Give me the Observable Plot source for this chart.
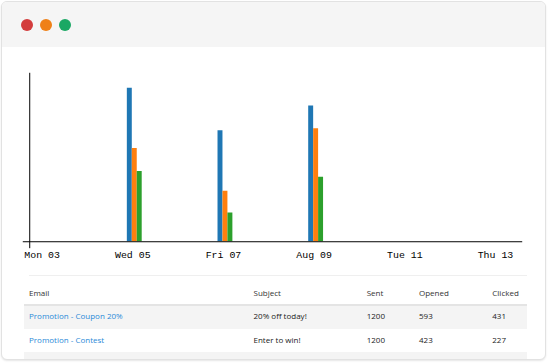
<!DOCTYPE html>
<html>
<head>
<meta charset="utf-8">
<script src="https://cdn.jsdelivr.net/npm/d3@7"></script>
<script src="https://cdn.jsdelivr.net/npm/@observablehq/plot@0.6"></script>
<style>
  html, body { margin: 0; padding: 0; background: #fff; width: 550px; height: 363px; overflow: hidden; }
  #win { position: absolute; left: 1px; top: 1px; width: 545px; height: 359px; box-sizing: border-box;
         border: 1px solid #e2e2e2; border-radius: 6px; box-shadow: 0 1px 2px rgba(0,0,0,0.10);
         background: #fff; overflow: hidden; }
  #bar { position: absolute; left: 0; top: 0; width: 100%; height: 45px; background: #f5f5f5; }
  .dot { position: absolute; top: 17px; width: 12px; height: 12px; border-radius: 50%; }
  #chart { position: absolute; left: -2px; top: 48px; }
  #chart svg { display: block; }
  #table { position: absolute; left: 22px; top: 272px; width: 503px; height: 85px; overflow: hidden;
           font-family: "Open Sans", sans-serif; font-size: 8px; color: #222; }
  .row { position: absolute; left: 0; width: 503px; }
  .cell { position: absolute; line-height: 11px; white-space: nowrap; }
</style>
</head>
<body>
<div id="win">
  <div id="bar">
    <div class="dot" style="left:19px;background:#d33c3c"></div>
    <div class="dot" style="left:38px;background:#ef8017"></div>
    <div class="dot" style="left:57px;background:#1aa864"></div>
  </div>
  <div id="chart"></div>
  <div id="table"></div>
</div>
<script>
// ---- chart data ----
const dates = ["2015-08-05", "2015-08-07", "2015-08-09"];
const sent = [155, 112, 137];
const opened = [94, 51, 114];
const clicked = [71, 29, 65];
const tickDates = ["2015-08-03", "2015-08-05", "2015-08-07", "2015-08-09", "2015-08-11", "2015-08-13"];
const tickLabels = ["Mon 03", "Wed 05", "Fri 07", "Aug 09", "Tue 11", "Thu 13"];
const xDomain = ["2015-08-02T17:27:00Z", "2015-08-13T14:24:00Z"];
const yDomain = [0, 170];
const seriesColors = ["#1f77b4", "#ff7f0e", "#2ca02c"];

// ---- table data ----
const tableHeaders = ["Email", "Subject", "Sent", "Opened", "Clicked"];
const emailNames = ["Promotion - Coupon 20%", "Promotion - Contest", "Product Update - Q4 Schedule"];
const emailSubjects = ["20% off today!", "Enter to win!", "Our Q4 plans"];
const emailSent = [1200, 1200, 1200];
const emailOpened = [593, 423, 512];
const emailClicked = [431, 227, 301];

const toDate = s => new Date(s.length === 10 ? s + "T00:00:00Z" : s);
const rows = dates.map((d, i) => ({date: toDate(d), sent: sent[i], opened: opened[i], clicked: clicked[i]}));
const labelMap = new Map(tickDates.map((d, i) => [+toDate(d), tickLabels[i]]));

const series = [["sent", -3.5], ["opened", 1.5], ["clicked", 6.5]];

const chart = Plot.plot({
  width: 550,
  height: 220,
  marginTop: 23,
  marginBottom: 20,
  marginLeft: 23,
  marginRight: 23,
  style: {background: "transparent", overflow: "visible"},
  x: {type: "utc", domain: xDomain.map(toDate), range: [29.5, 527]},
  y: {domain: yDomain, range: [193, 23], axis: null},
  marks: [
    ...series.map(([key, dx], i) =>
      Plot.ruleX(rows, {x: "date", y1: 0, y2: key, stroke: seriesColors[i], strokeWidth: 5, dx})),
    Plot.ruleY([0], {stroke: "#000", strokeWidth: 1}),
    Plot.ruleX([toDate(xDomain[0])], {stroke: "#000", strokeWidth: 1}),
    Plot.axisX({
      ticks: tickDates.map(toDate),
      tickFormat: d => labelMap.get(+d),
      tickSize: 0,
      tickPadding: 2,
      fontFamily: "Liberation Mono, Courier New, monospace",
      fontSize: 10,
      fill: "#000",
      fillOpacity: 1
    })
  ]
});
document.getElementById("chart").appendChild(chart);

// ---- table (page coords offset by window origin + table origin: x 24, y 274) ----
const table = document.getElementById("table");
const colX = [5, 229.5, 342.7, 395, 468.3];
const tOff = 274;
function addDiv(parent, style, text, cls) {
  const el = document.createElement("div");
  if (cls) el.className = cls;
  Object.assign(el.style, style);
  if (text !== undefined) el.textContent = text;
  parent.appendChild(el);
  return el;
}
// top rule
addDiv(table, {position: "absolute", left: "5px", top: (275 - tOff) + "px", width: "498px", height: "1px", background: "#efefef"});
// header
tableHeaders.forEach((h, j) => addDiv(table, {left: colX[j] + "px", top: (296 - 8.6 - tOff) + "px", color: "#333"}, h, "cell"));
addDiv(table, {position: "absolute", left: "0px", top: (303.5 - tOff) + "px", width: "503px", height: "2px", background: "#e4e4e4"});
emailNames.forEach((name, i) => {
  const top = 305.5 + i * 23 - tOff;
  addDiv(table, {position: "absolute", left: "0px", top: top + "px", width: "503px", height: "23px",
                 background: i % 2 === 0 ? "#f4f4f4" : "#fff"});
  const base = 318.8 + i * 23.3 - 8.6 - tOff;
  const vals = [name, emailSubjects[i], emailSent[i], emailOpened[i], emailClicked[i]];
  vals.forEach((v, j) => addDiv(table, {left: colX[j] + "px", top: base + "px", color: j === 0 ? "#2b8ad8" : "#222"}, String(v), "cell"));
});
</script>
</body>
</html>
